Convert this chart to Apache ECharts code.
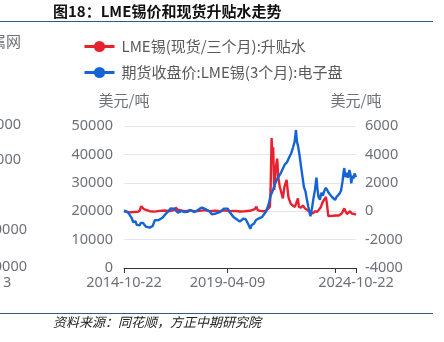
<!DOCTYPE html>
<html>
<head>
<meta charset="utf-8">
<script src="https://cdn.jsdelivr.net/npm/echarts@6/dist/echarts.min.js"></script>
<style>
  html, body { margin: 0; padding: 0; background: #fff; }
  #chart { width: 444px; height: 342px; }
</style>
</head>
<body>
<div id="chart"></div>
<script>
// LME tin 3M closing price (USD/t, left axis)
const priceDates = [
  '2014-10-22','2014-11-17','2014-12-20','2015-01-20','2015-02-20','2015-03-15','2015-04-10','2015-04-22',
  '2015-05-10','2015-06-01','2015-06-27','2015-07-12','2015-07-26','2015-08-14','2015-09-05','2015-09-30',
  '2015-10-30','2015-12-01','2015-12-24','2016-01-18','2016-02-18','2016-03-20','2016-04-22','2016-05-22',
  '2016-06-22','2016-07-25','2016-08-25','2016-09-27','2016-10-28','2016-11-20','2016-12-15','2017-01-15',
  '2017-02-17','2017-03-18','2017-04-20','2017-05-22','2017-06-22','2017-07-22','2017-08-25','2017-09-25',
  '2017-10-26','2017-11-28','2017-12-28','2018-01-28','2018-03-01','2018-04-01','2018-05-01','2018-06-01',
  '2018-07-05','2018-08-05','2018-09-05','2018-10-08','2018-11-08','2018-12-10','2019-01-10','2019-02-10',
  '2019-03-12','2019-04-12','2019-05-14','2019-06-14','2019-07-16','2019-08-16','2019-09-16','2019-10-18',
  '2019-11-18','2019-12-20','2020-01-22','2020-02-22','2020-03-15','2020-04-01','2020-04-25','2020-05-27',
  '2020-06-28','2020-07-30','2020-08-30','2020-10-01','2020-11-01','2020-12-03','2020-12-28','2021-01-22',
  '2021-02-15','2021-03-08','2021-04-01','2021-04-24','2021-05-26','2021-06-26','2021-07-28','2021-08-28',
  '2021-09-30','2021-11-01','2021-12-02','2022-01-04','2022-02-04','2022-03-01','2022-03-22','2022-04-06',
  '2022-04-23','2022-05-15','2022-06-09','2022-07-02','2022-07-25','2022-08-18','2022-09-10','2022-10-03',
  '2022-10-27','2022-11-05','2022-11-29','2022-12-22','2023-01-15','2023-02-07','2023-02-22','2023-03-10',
  '2023-04-03','2023-04-26','2023-05-20','2023-06-12','2023-07-06','2023-07-30','2023-08-23','2023-09-16',
  '2023-10-10','2023-11-03','2023-11-27','2023-12-20','2024-01-12','2024-02-05','2024-02-29','2024-03-24',
  '2024-04-08','2024-04-20','2024-05-08','2024-05-31','2024-06-16','2024-07-10','2024-07-26','2024-08-08',
  '2024-08-28','2024-09-13','2024-09-30','2024-10-22'
];
const priceValues = [
  20300,19900,19600,18700,17600,16200,15700,16400,
  15200,15800,15000,15900,15300,15900,15200,14600,
  14900,14200,13900,14800,16800,17000,16900,17300,
  17800,18700,19400,20200,21000,21500,20900,20400,
  19500,19900,20100,19700,20300,19800,20500,20100,
  19700,20000,20300,20900,21300,21100,20700,20400,
  19800,18900,19100,19200,19600,19700,20300,20900,
  21300,20900,19700,18700,17900,17300,16900,16400,
  17100,17400,17100,16600,14800,13800,15200,15500,
  16800,17300,17600,17900,18600,19800,21200,23000,
  25500,26500,28000,29500,31200,31800,33500,35000,
  36600,37200,38800,40300,42500,44500,48600,44500,
  43000,40000,35800,32200,28500,27000,24000,21500,
  19000,18200,21000,24500,27500,31800,28000,25200,
  24000,26500,25500,27200,28200,27300,26300,25800,
  25000,24500,24000,25000,25500,26200,27200,30500,
  33500,35200,32000,33500,31800,34500,33000,29800,
  32500,31500,33300,32000
];

// LME tin cash-to-3M spread (USD/t, right axis)
const spreadDates = [
  '2014-10-22','2014-11-18','2015-01-20','2015-03-24','2015-05-26','2015-06-27','2015-07-20','2015-08-08',
  '2015-08-29','2015-09-29','2015-12-01','2016-02-18','2016-05-07','2016-07-25','2016-10-11','2016-12-13',
  '2017-01-14','2017-02-15','2017-04-19','2017-06-21','2017-08-23','2017-11-09','2018-01-27','2018-04-16',
  '2018-07-04','2018-09-21','2018-12-09','2019-02-25','2019-05-15','2019-08-02','2019-10-20','2020-01-07',
  '2020-03-25','2020-06-12','2020-07-06','2020-07-30','2020-10-01','2020-12-03','2021-01-03','2021-02-04',
  '2021-02-15','2021-03-03','2021-03-15','2021-03-28','2021-04-13','2021-04-24','2021-05-09','2021-05-30',
  '2021-06-18','2021-07-11','2021-08-04','2021-08-28','2021-09-20','2021-10-25','2021-11-07','2021-11-23',
  '2021-12-08','2022-01-01','2022-02-01','2022-03-05','2022-03-29','2022-04-21','2022-05-07','2022-06-08',
  '2022-07-09','2022-08-10','2022-09-10','2022-10-12','2022-11-12','2022-12-14','2023-01-14','2023-02-15',
  '2023-03-18','2023-04-19','2023-05-12','2023-06-05','2023-07-07','2023-07-23','2023-08-12','2023-09-08',
  '2023-10-25','2023-12-11','2024-01-27','2024-03-15','2024-04-20','2024-05-09','2024-06-02','2024-06-25',
  '2024-07-19','2024-08-12','2024-09-04','2024-09-28','2024-10-22'
];
const spreadValues = [
  0,-50,-80,-60,-50,50,350,420,
  150,30,0,-30,20,50,0,80,
  250,100,30,0,60,0,20,80,
  0,40,0,60,0,20,-20,0,
  30,150,320,60,0,20,-50,300,
  1500,5150,4000,4500,1500,2000,3100,3700,
  2300,1700,1300,900,1700,2200,2100,1000,
  800,500,400,300,600,900,300,250,
  400,200,100,0,-100,-150,0,-50,
  100,300,600,800,1000,500,-350,-300,
  -320,-300,-300,-150,200,0,-200,-250,
  0,-150,-50,-200,-250
];

// x-axis tick positions and labelled dates
const tickDates = ['2014-10-22', '2019-04-09', '2023-11-28', '2024-10-22'];
const labelDates = ['2014-10-22', '2019-04-09', '2024-10-22'];

const seriesNames = ['LME锡(现货/三个月):升贴水', '期货收盘价:LME锡(3个月):电子盘'];

const toTime = s => echarts.number.parseDate(s).getTime();
const zip = (ds, vs) => ds.map((d, i) => [toTime(d), vs[i]]);
const plain = v => String(v);

const RED = '#E8212E';
const BLUE = '#1464D6';
const GRAY = '#6E7079';
const NUM_FONT = "'Noto Sans', 'Noto Sans CJK SC', sans-serif";
const CJK_FONT = "'Noto Sans CJK SC', 'Noto Sans', sans-serif";

const chart = echarts.init(document.getElementById('chart'), null, { renderer: 'canvas' });

chart.setOption({
  animation: false,
  backgroundColor: '#fff',
  legend: {
    left: 78,
    top: 34,
    orient: 'vertical',
    itemWidth: 30,
    itemHeight: 14,
    itemGap: 11,
    lineStyle: { width: 3 },
    textStyle: { fontSize: 15, color: '#595959', fontFamily: CJK_FONT, padding: [0, 0, 0, 2] },
    data: seriesNames
  },
  grid: { left: 124, right: 88, top: 126, bottom: 74, containLabel: false },
  xAxis: {
    type: 'value',
    min: toTime('2014-10-22'),
    max: toTime('2024-10-22'),
    splitLine: { show: false },
    axisLine: { lineStyle: { color: '#333', width: 1 } },
    axisTick: {
      show: true, length: 5, lineStyle: { color: '#333' },
      customValues: tickDates.map(toTime)
    },
    axisLabel: {
      customValues: labelDates.map(toTime),
      formatter: v => echarts.time.format(v, '{yyyy}-{MM}-{dd}', false),
      fontSize: 14.5, color: GRAY, fontFamily: NUM_FONT, margin: 8
    }
  },
  yAxis: [
    {
      type: 'value', min: 0, max: 50000, interval: 10000,
      name: '美元/吨', nameLocation: 'end', nameGap: 18,
      nameTextStyle: { fontSize: 15, color: GRAY, fontFamily: CJK_FONT },
      axisLine: { show: false }, axisTick: { show: false },
      splitLine: { lineStyle: { color: '#E0E6F1', width: 1.2 } },
      axisLabel: { formatter: plain, fontSize: 14.5, color: GRAY, fontFamily: NUM_FONT, margin: 11 }
    },
    {
      type: 'value', min: -4000, max: 6000, interval: 2000,
      name: '美元/吨', nameLocation: 'end', nameGap: 18,
      nameTextStyle: { fontSize: 15, color: GRAY, fontFamily: CJK_FONT },
      axisLine: { show: false }, axisTick: { show: false },
      splitLine: { show: false },
      axisLabel: { formatter: plain, fontSize: 14.5, color: GRAY, fontFamily: NUM_FONT, margin: 9 }
    }
  ],
  series: [
    {
      name: seriesNames[0], type: 'line', yAxisIndex: 1,
      data: zip(spreadDates, spreadValues),
      symbol: 'circle', showSymbol: false, symbolSize: 10,
      itemStyle: { color: RED }, lineStyle: { color: RED, width: 2.4 }
    },
    {
      name: seriesNames[1], type: 'line', yAxisIndex: 0,
      data: zip(priceDates, priceValues),
      symbol: 'circle', showSymbol: false, symbolSize: 10,
      itemStyle: { color: BLUE }, lineStyle: { color: BLUE, width: 2.4 }
    }
  ],
  graphic: [
    { type: 'text', left: 53, top: 4, style: { text: '图18：LME锡价和现货升贴水走势', fontSize: 15, fontWeight: 'bold', fill: '#111', fontFamily: CJK_FONT } },
    { type: 'line', shape: { x1: 0, y1: 21.5, x2: 433, y2: 21.5 }, style: { stroke: '#2B5C8A', lineWidth: 1.2 } },
    { type: 'line', shape: { x1: 0, y1: 313.5, x2: 433, y2: 313.5 }, style: { stroke: '#2B5C8A', lineWidth: 1.2 } },
    { type: 'text', left: 53, top: 316, style: { text: '资料来源：同花顺，方正中期研究院', fontSize: 13, fontStyle: 'italic', fill: '#222', fontFamily: CJK_FONT } },
    // neighbouring panel, clipped at the left edge
    { type: 'text', x: 21, y: 41, style: { text: '金属网', fontSize: 15, fill: GRAY, align: 'right', verticalAlign: 'middle', fontFamily: CJK_FONT } },
    { type: 'text', x: 21, y: 125, style: { text: '50000', fontSize: 14.5, fill: GRAY, align: 'right', verticalAlign: 'middle', fontFamily: NUM_FONT } },
    { type: 'text', x: 21, y: 160, style: { text: '40000', fontSize: 14.5, fill: GRAY, align: 'right', verticalAlign: 'middle', fontFamily: NUM_FONT } },
    { type: 'text', x: 27, y: 230, style: { text: '-10000', fontSize: 14.5, fill: GRAY, align: 'right', verticalAlign: 'middle', fontFamily: NUM_FONT } },
    { type: 'text', x: 27, y: 267, style: { text: '-20000', fontSize: 14.5, fill: GRAY, align: 'right', verticalAlign: 'middle', fontFamily: NUM_FONT } },
    { type: 'text', x: 3, y: 283, style: { text: '3', fontSize: 14.5, fill: GRAY, align: 'left', verticalAlign: 'middle', fontFamily: NUM_FONT } }
  ]
});
</script>
</body>
</html>
